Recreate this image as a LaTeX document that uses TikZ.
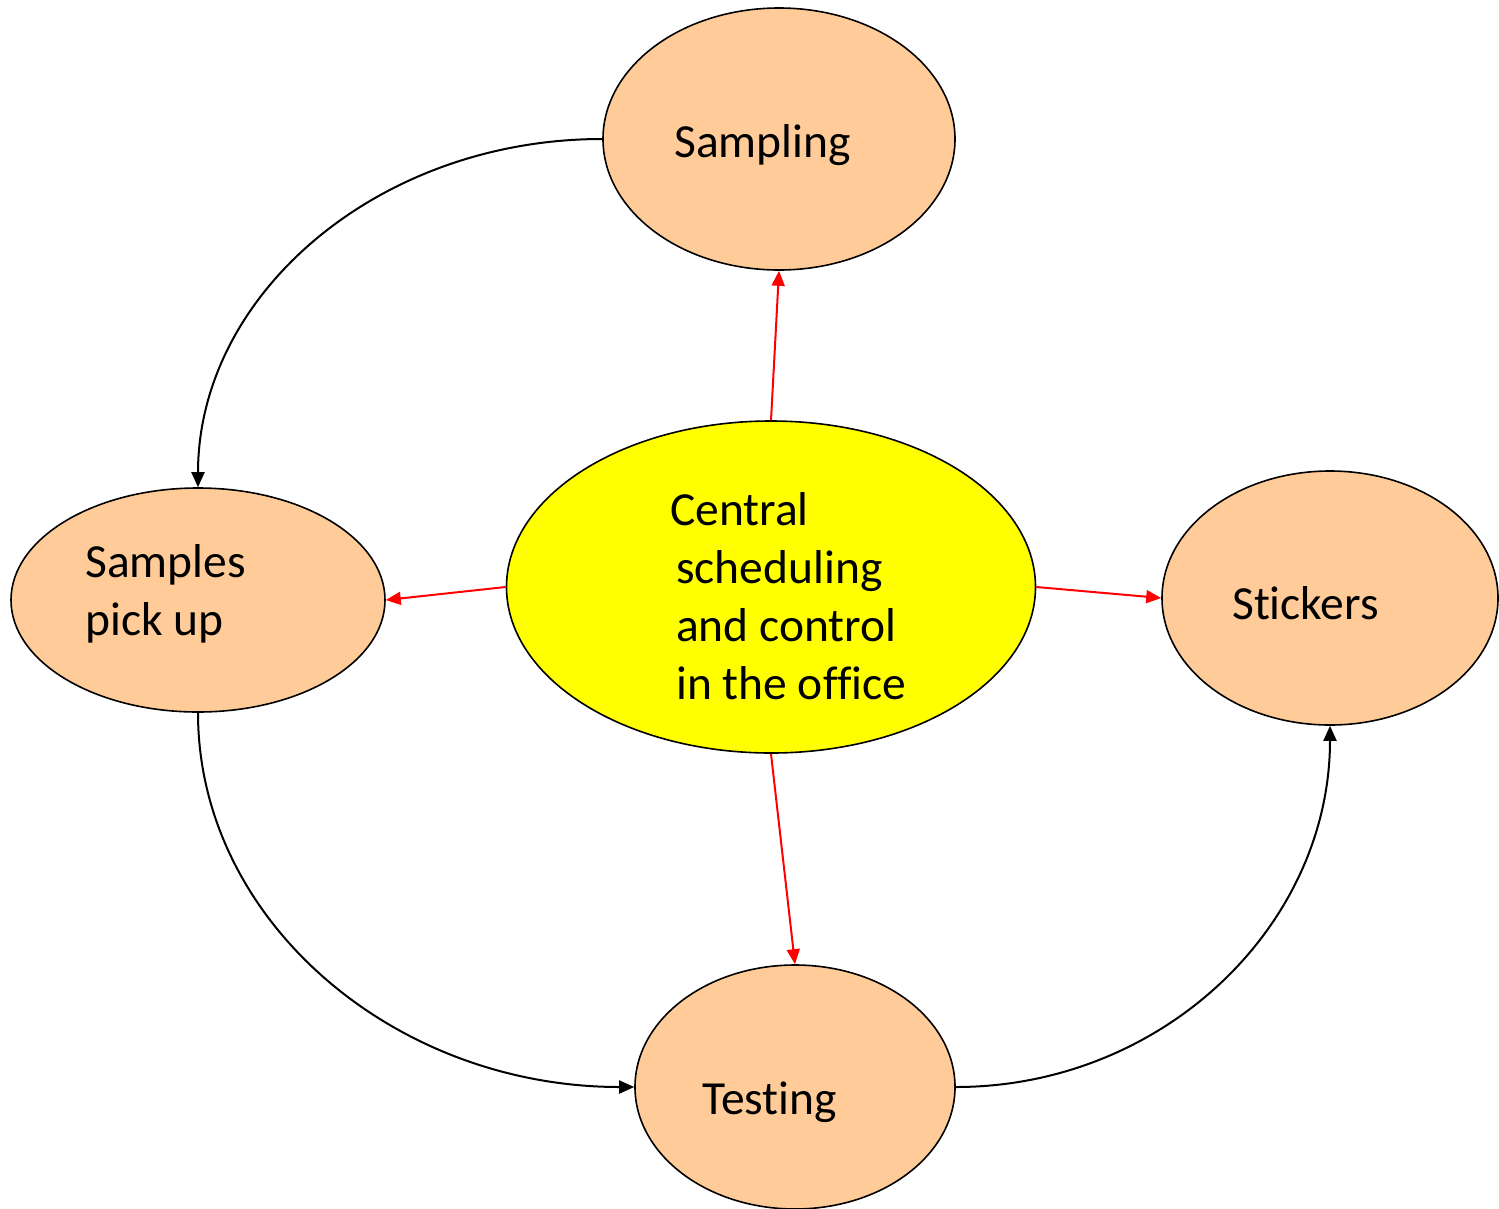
\documentclass[tikz,border=0pt]{standalone}
\usepackage{fontspec}
\setmainfont{Carlito}[Ligatures={NoCommon,NoContextual}]
\usetikzlibrary{arrows.meta,shapes.geometric}
\definecolor{peach}{HTML}{FFCC99}
\definecolor{ctryellow}{HTML}{FFFF00}
\definecolor{arrred}{HTML}{FF0000}
\tikzset{
  blob/.style={ellipse,draw=black,line width=1.6pt,inner sep=0pt,fill=peach},
  hub/.style={ellipse,draw=black,line width=1.6pt,inner sep=0pt,fill=ctryellow},
  lbl/.style={anchor=base west,inner sep=0pt,font=\fontsize{47.5}{58}\selectfont},
  redarrow/.style={draw=arrred,line width=2pt,-{Triangle[length=15pt,width=13pt]}},
  flow/.style={draw=black,line width=2pt,-{Triangle[length=15pt,width=13pt]}}
}
\begin{document}
\begin{tikzpicture}[x=1pt,y=-1pt]
\useasboundingbox (0,0) rectangle (1499,1208);
% ellipses
\node[blob,minimum width=352pt,minimum height=262pt] (samp) at (779,139) {};
\node[hub,minimum width=529pt,minimum height=332pt] (ctr) at (771,587) {};
\node[blob,minimum width=374pt,minimum height=224pt] (pick) at (198,600) {};
\node[blob,minimum width=336pt,minimum height=254pt] (stick) at (1330,598) {};
\node[blob,minimum width=320pt,minimum height=244pt] (test) at (795,1087) {};
% labels
\node[lbl] (tsamp) at (674,157) {Sampling};
\node[lbl] (tctr) at (670,525) {\vtop{\hbox{Central}\hbox{\kern6pt scheduling}\hbox{\kern6pt and control}\hbox{\kern6pt in the office}}};
\node[lbl] (tpick) at (85,577) {\vtop{\hbox{Samples}\hbox{pick up}}};
\node[lbl] (tstick) at (1232,619) {Stickers};
\node[lbl] (ttest) at (702,1114) {Testing};
% red arrows
\draw[redarrow] (ctr.north) -- (samp.south);
\draw[redarrow] (ctr.west) -- (pick.east);
\draw[redarrow] (ctr.east) -- (stick.west);
\draw[redarrow] (ctr.south) -- (test.north);
% flow curves
\draw[flow] (samp.west) .. controls +(-224,0) and +(0,-193) .. (pick.north);
\draw[flow] (pick.south) .. controls +(0,207) and +(-241,0) .. (test.west);
\draw[flow] (test.east) .. controls +(207,0) and +(0,200) .. (stick.south);
\end{tikzpicture}
\end{document}
